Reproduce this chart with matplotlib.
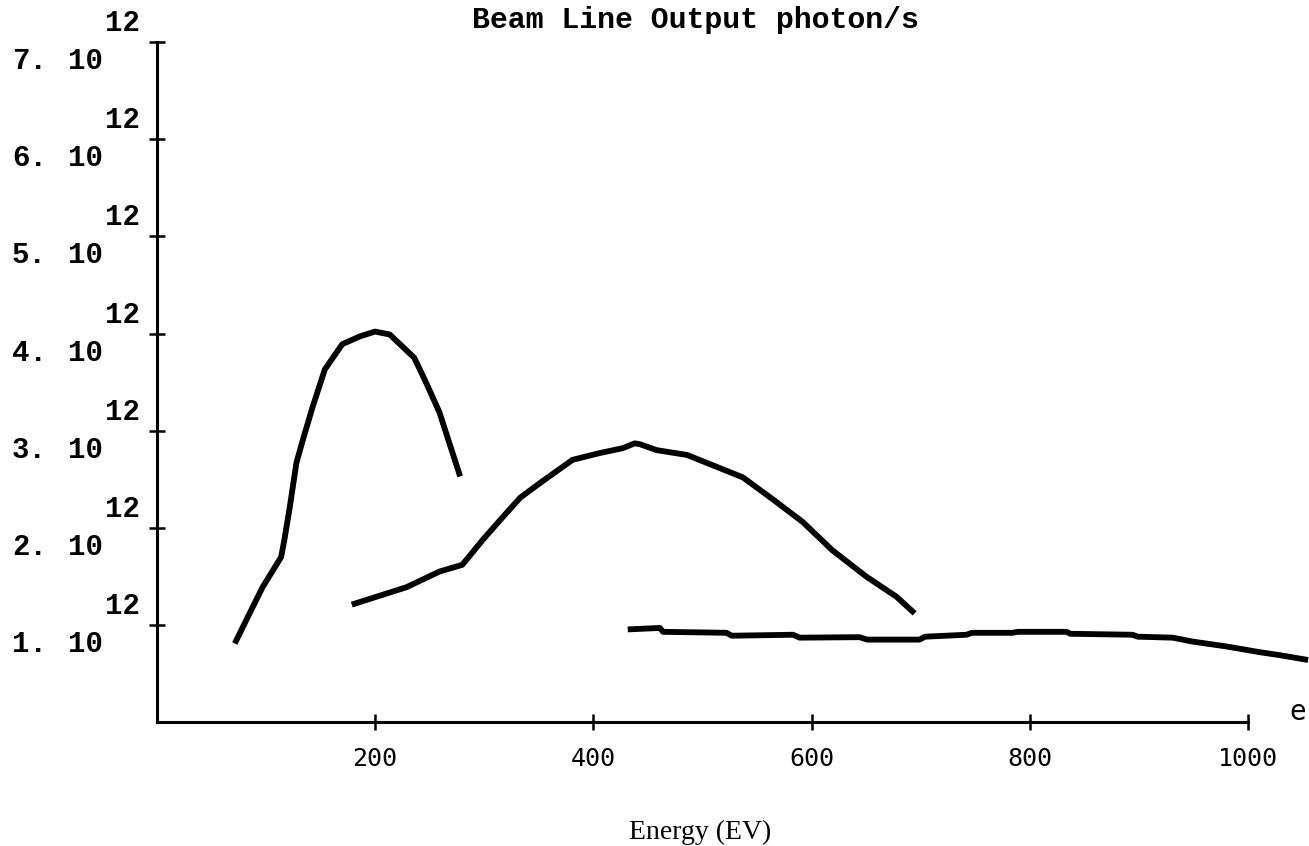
import matplotlib
matplotlib.use("Agg")
import matplotlib.pyplot as plt
from matplotlib import transforms

# ---- data (energy in eV, output in photon/s) ----
curve1_energy = [71.5, 82, 97, 114, 117, 122, 128, 134, 143, 154, 170, 186, 200, 213.5, 236, 247, 259, 278]
curve1_flux = [0.81, 1.05, 1.39, 1.70, 1.88, 2.22, 2.67, 2.91, 3.25, 3.63, 3.89, 3.97, 4.02, 3.99, 3.75, 3.49, 3.19, 2.53]

curve2_energy = [178.7, 229, 259, 280, 299, 317, 333, 351, 381, 406, 427, 438, 443, 458, 486, 537, 565, 592, 619, 650, 678, 694.5]
curve2_flux = [1.21, 1.39, 1.55, 1.62, 1.88, 2.11, 2.31, 2.46, 2.70, 2.77, 2.82, 2.87, 2.86, 2.80, 2.75, 2.52, 2.29, 2.06, 1.77, 1.50, 1.29, 1.12]

curve3_energy = [431.6, 461, 464, 522, 527, 583, 589, 644, 651, 699, 704, 742, 747, 784, 789, 834, 837, 894, 899, 931, 949, 980, 1011, 1029, 1055]
curve3_flux = [0.955, 0.97, 0.93, 0.92, 0.89, 0.90, 0.87, 0.875, 0.85, 0.85, 0.88, 0.90, 0.92, 0.92, 0.93, 0.93, 0.91, 0.90, 0.88, 0.87, 0.83, 0.78, 0.72, 0.69, 0.64]

scale = 1e12
x_ticks = [200, 400, 600, 800, 1000]
x_tick_labels = ["200", "400", "600", "800", "1000"]
y_ticks = [1, 2, 3, 4, 5, 6, 7]
y_tick_mantissa = ["1.", "2.", "3.", "4.", "5.", "6.", "7."]
y_tick_exponent = "12"
title = "Beam Line Output photon/s"
xlabel = "Energy (EV)"

W, H = 1309, 846
fig = plt.figure(figsize=(W / 100, H / 100), dpi=100)
x0_px, y0_px = 156.75, 722.2
ax = fig.add_axes([x0_px / W, (H - y0_px) / H, (W - x0_px) / W, y0_px / H])
ax.set_xlim(0, (W - x0_px) / 1.0913)
ax.set_ylim(0, y0_px / 97.17 * scale)

for ex, fl in [(curve1_energy, curve1_flux), (curve2_energy, curve2_flux), (curve3_energy, curve3_flux)]:
    ax.plot(ex, [v * scale for v in fl], color="black", lw=4.2, solid_capstyle="butt",
            solid_joinstyle="round", clip_on=False)

for s in ["top", "right"]:
    ax.spines[s].set_visible(False)
ax.spines["left"].set_bounds(0, 7 * scale)
ax.spines["bottom"].set_bounds(0, 1000)
ax.spines["left"].set_linewidth(2.2)
ax.spines["bottom"].set_linewidth(2.2)

ax.set_xticks(x_ticks)
ax.set_xticklabels(x_tick_labels, family="DejaVu Sans Mono", fontsize=18)
ax.set_yticks([v * scale for v in y_ticks])
ax.set_yticklabels([])
ax.tick_params(axis="both", direction="inout", length=12, width=1.8, color="black")
ax.tick_params(axis="x", pad=12)

# y tick labels: mantissa, "10", superscript exponent
mono = "Liberation Mono"
ytr = ax.get_yaxis_transform()
for v, m in zip(y_ticks, y_tick_mantissa):
    below = transforms.offset_copy(ytr, fig=fig, x=0, y=-19, units="dots")
    above = transforms.offset_copy(ytr, fig=fig, x=0, y=19, units="dots")
    ax.text((12 - x0_px) / (W - x0_px), v * scale, m, transform=below, ha="left", va="center",
            family=mono, fontsize=21, fontweight="bold")
    ax.text((68 - x0_px) / (W - x0_px), v * scale, "10", transform=below, ha="left", va="center",
            family=mono, fontsize=21, fontweight="bold")
    ax.text((105 - x0_px) / (W - x0_px), v * scale, y_tick_exponent, transform=above, ha="left", va="center",
            family=mono, fontsize=21, fontweight="bold")

fig.text(695 / W, 1 - 20 / H, title, ha="center", va="center", family=mono, fontsize=21.5, fontweight="bold")
fig.text(700 / W, 1 - 832 / H, xlabel, ha="center", va="center", family="Liberation Serif", fontsize=20)
fig.text(1298 / W, 1 - 712 / H, "e", ha="center", va="center", family="DejaVu Sans Mono", fontsize=20)

fig.savefig("out.png", dpi=100)
